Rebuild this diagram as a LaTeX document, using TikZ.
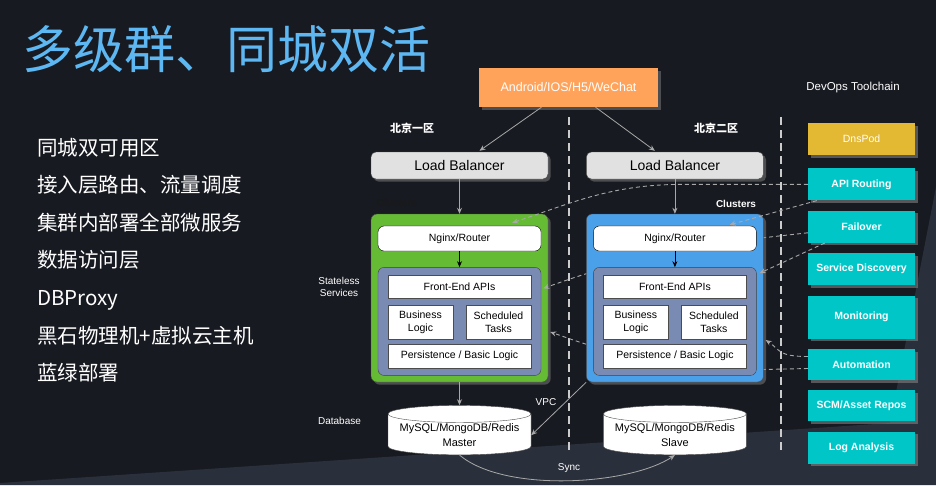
\documentclass[tikz,border=0pt]{standalone}
\usepackage{fontspec}
\setmainfont{Liberation Sans}
\newfontfamily\cjk{Noto Sans CJK SC}
\usetikzlibrary{shapes.geometric, arrows.meta, positioning, calc, shadows}

\definecolor{pagebg}{HTML}{181A21}
\definecolor{pagelight}{HTML}{2A303B}
\definecolor{titleblue}{HTML}{5DB7F2}
\definecolor{clientorange}{HTML}{FFA35B}
\definecolor{lbgray}{HTML}{E1E1E1}
\definecolor{zonegreen}{HTML}{66BB34}
\definecolor{zoneblue}{HTML}{4AA1E9}
\definecolor{stackslate}{HTML}{7A8BB3}
\definecolor{toolteal}{HTML}{00C6C8}
\definecolor{toolgold}{HTML}{E3B832}
\definecolor{linkgray}{HTML}{A8A8A8}

\begin{document}
\begin{tikzpicture}[
    x=1pt, y=-1pt,
    every node/.style={font=\fontsize{10}{12}\selectfont},
    heading/.style={anchor=west, inner sep=0pt, text=titleblue,
                font=\cjk\fontsize{51}{56}\selectfont},
    point/.style={anchor=base west, inner sep=0pt, text=white,
                font=\cjk\fontsize{20.5}{24}\selectfont},
    lbl/.style={text=white, inner sep=1pt, align=center},
    clientbox/.style={rectangle, fill=clientorange, text=white, minimum width=179pt,
                minimum height=39pt, font=\fontsize{12.5}{14}\selectfont,
                drop shadow={opacity=0.5}},
    lbbox/.style={rectangle, rounded corners=5pt, draw=black!70, fill=lbgray,
                minimum width=177pt, minimum height=27pt,
                font=\fontsize{14}{16}\selectfont, drop shadow={opacity=0.5}},
    clusterbox/.style={rectangle, rounded corners=6pt, draw=black!70,
                minimum width=177pt, minimum height=168pt, drop shadow={opacity=0.5}},
    routerbox/.style={rectangle, rounded corners=6pt, draw=black, fill=white,
                minimum width=163pt, minimum height=25pt, font=\fontsize{10.5}{12}\selectfont},
    stackbox/.style={rectangle, rounded corners=6pt, draw=black!75, fill=stackslate,
                minimum width=163pt, minimum height=108pt},
    svcbox/.style={rectangle, draw=black!70, fill=white, minimum height=23pt,
                inner sep=1pt, align=center, font=\fontsize{10.5}{13}\selectfont},
    dbbox/.style={cylinder, shape border rotate=90, aspect=0.14, draw=black!70,
                fill=white, minimum width=143pt, minimum height=45pt, align=center,
                inner sep=1pt, font=\fontsize{11}{15}\selectfont},
    toolbox/.style={rectangle, fill=toolteal, text=white, minimum width=107pt,
                minimum height=32pt, font=\bfseries\fontsize{10.5}{12}\selectfont,
                drop shadow={opacity=0.6}},
    flow/.style={-{Stealth[length=6pt, width=5pt]}, linkgray, line width=0.8pt},
    push/.style={-{Stealth[length=6pt, width=5pt]}, black, line width=0.8pt},
    ctrl/.style={-{Stealth[length=6pt, width=5pt]}, linkgray, line width=0.9pt,
                dash pattern=on 4pt off 3pt},
    zone/.style={draw=white!80!black, line width=1.6pt, dash pattern=on 8pt off 5pt}
  ]
  % page
  \fill[pagebg] (0,0) rectangle (936,485);
  \fill[pagelight] (0,485) -- (0,483) -- (890,423) -- (936,187) -- (936,485) -- cycle;
  \useasboundingbox (0,0) rectangle (936,485);

  \node[heading] (heading) at (22,49) {多级群、同城双活};
  \foreach \txt [count=\i] in {同城双可用区, 接入层路由、流量调度, 集群内部署全部微服务,
      数据访问层, DBProxy, 黑石物理机+虚拟云主机, 蓝绿部署}
    \node[point] (pt\i) at (37,{117.4+37.6*\i}) {\txt};

  % zones
  \draw[zone] (569,117) -- (569,452);
  \draw[zone] (781,117) -- (781,452);

  \node[clientbox] (client) at (568.5,87.5) {Android/IOS/H5/WeChat};
  \node[lbl, font=\cjk\bfseries\fontsize{11}{12}\selectfont] (zoneA) at (412,128) {北京一区};
  \node[lbl, font=\cjk\bfseries\fontsize{11}{12}\selectfont] (zoneB) at (716,128) {北京二区};
  \node[lbl, font=\fontsize{11.5}{13}\selectfont] (devops) at (853,88) {DevOps Toolchain};

  \node[lbbox] (lbA) at (459.5,165.5) {Load Balancer};
  \node[lbbox, right=38pt of lbA] (lbB) {Load Balancer};

  % toolchain
  \node[toolbox, fill=toolgold, font=\fontsize{10.5}{12}\selectfont] (dnspod) at (861.5,139) {DnsPod};
  \node[toolbox, below=13pt of dnspod] (routing) {API Routing};
  \node[toolbox, below=10pt of routing] (failover) {Failover};
  \node[toolbox, below=10pt of failover] (discovery) {Service Discovery};
  \node[toolbox, below=10pt of discovery, minimum height=43pt] (monitor) {Monitoring};
  \node[toolbox, below=10pt of monitor, minimum height=31pt] (auto) {Automation};
  \node[toolbox, below=10pt of auto, minimum height=31pt] (scm) {SCM/Asset Repos};
  \node[toolbox, below=10pt of scm] (logs) {Log Analysis};

  % zone one
  \node[clusterbox, fill=zonegreen] (clA) at (459.5,298) {};
  \node[lbl, text=black!90, font=\bfseries\fontsize{10}{11}\selectfont] (clusterA) at (397,203) {Clusters};
  \node[routerbox, below=12pt of clA.north] (routerA) {Nginx/Router};
  \node[stackbox, below=16pt of routerA] (stackA) {};
  \node[svcbox, minimum width=143pt, below=8pt of stackA.north] (apiA) {Front-End APIs};
  \node[svcbox, minimum width=65pt, minimum height=34pt,
        below right=6pt and 0pt of apiA.south west] (bizA) {Business\\Logic};
  \node[svcbox, minimum width=65pt, minimum height=34pt,
        below left=6pt and 0pt of apiA.south east] (jobA) {Scheduled\\Tasks};
  \node[svcbox, minimum width=143pt, minimum height=24pt,
        below right=5pt and 0pt of bizA.south west] (dalA) {Persistence / Basic Logic};
  \node[dbbox, below=23pt of clA] (dbA) {MySQL/MongoDB/Redis\\Master};

  \node[lbl] (stateless) at (339,287) {Stateless\\Services};
  \node[lbl] (database) at (339.5,421) {Database};

  % passing behind zone two
  \draw[ctrl] ($(failover.west)+(0,6)$) -- ++(-45,5)
        .. controls +(-100,10) and +(50,-18) .. ($(stackA.east)+(2,-33)$);
  \draw[ctrl] ($(auto.west)+(0,4)$) -- ++(-45,1)
        .. controls +(-120,-2) and +(35,12) .. ($(clA.east)+(2,34)$);

  % zone two
  \node[clusterbox, fill=zoneblue, right=38pt of clA] (clB) {};
  \node[lbl, font=\bfseries\fontsize{10}{11}\selectfont] (clusterB) at (736,204) {Clusters};
  \node[routerbox, below=12pt of clB.north] (routerB) {Nginx/Router};
  \node[stackbox, below=16pt of routerB] (stackB) {};
  \node[svcbox, minimum width=143pt, below=8pt of stackB.north] (apiB) {Front-End APIs};
  \node[svcbox, minimum width=65pt, minimum height=34pt,
        below right=6pt and 0pt of apiB.south west] (bizB) {Business\\Logic};
  \node[svcbox, minimum width=65pt, minimum height=34pt,
        below left=6pt and 0pt of apiB.south east] (jobB) {Scheduled\\Tasks};
  \node[svcbox, minimum width=143pt, minimum height=24pt,
        below right=5pt and 0pt of bizB.south west] (dalB) {Persistence / Basic Logic};
  \node[dbbox, below=23pt of clB] (dbB) {MySQL/MongoDB/Redis\\Slave};

  \node[lbl] (vpc) at (546,402) {VPC};
  \node[lbl] (sync) at (569,468) {Sync};

  % links
  \draw[flow] ($(client.south)+(-27,0)$) -- ($(lbA.north)+(20,-1)$);
  \draw[flow] ($(client.south)+(27,0)$) -- ($(lbB.north)+(-20,-1)$);
  \draw[flow] (lbA.south) -- (clA.north);
  \draw[flow] (lbB.south) -- (clB.north);
  \draw[push] (routerA) -- (stackA);
  \draw[push] (routerB) -- (stackB);
  \draw[flow] (clA) -- (dbA);
  \draw[flow] (clB.south west) -- (dbA.east);
  \draw[flow] (dbA.south) .. controls +(45,38) and +(-45,30) .. (dbB.south);

  \draw[ctrl] (routing.west) -- ++(-126,0)
        .. controls +(-70,0) and +(60,-20) .. ($(routerA.north east)+(-29,-3)$);
  \draw[ctrl] ($(routing.south west)+(9,0)$) -- ($(routerB.north east)+(-27,-1)$);
  \draw[ctrl] ($(failover.south west)+(17,0)$) -- ($(stackB.north east)+(3,6)$);
  \draw[ctrl] ($(auto.west)+(0,-8)$)
        .. controls +(-30,0) and +(15,10) .. ($(clB.east)+(2,42)$);
\end{tikzpicture}
\end{document}
